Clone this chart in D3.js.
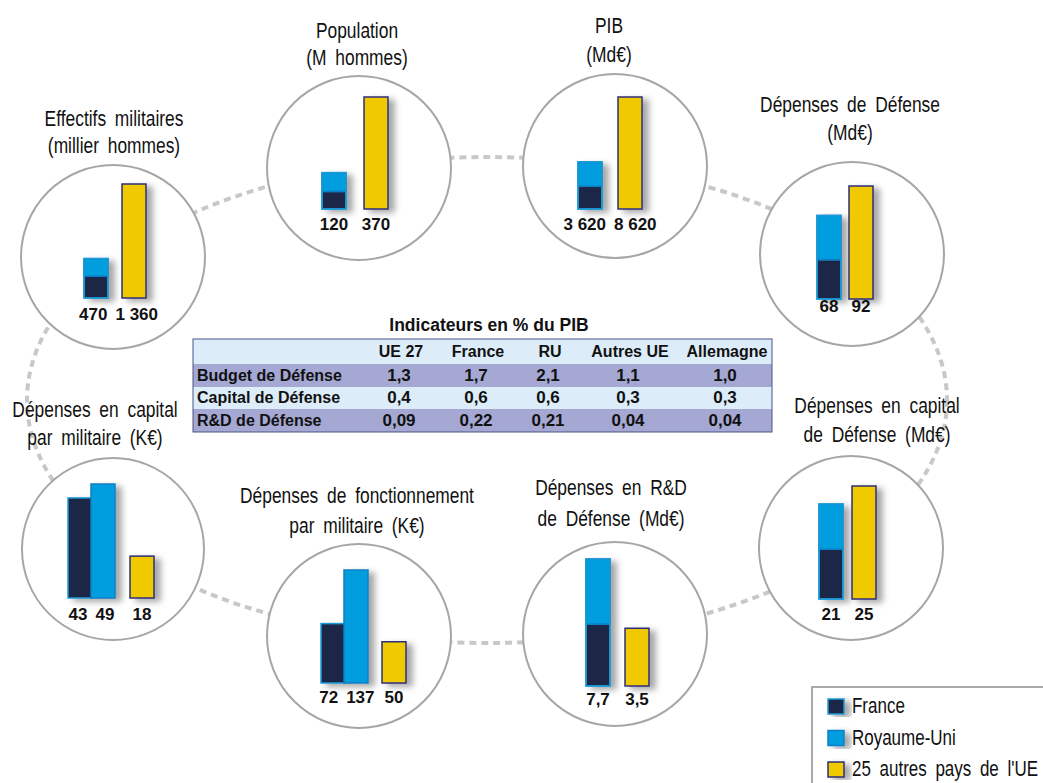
<!DOCTYPE html>
<html>
<head>
<meta charset="utf-8">
<title>Défense : France, Royaume-Uni et autres pays de l'UE</title>
<style>
  body{margin:0;background:#fff;}
  .title{font-family:"Liberation Sans",Arial,sans-serif;font-size:22px;word-spacing:5px;fill:#111;}
  .val{font-family:"Liberation Sans",Arial,sans-serif;font-weight:700;font-size:17px;fill:#111;}
  .tab{font-family:"Liberation Sans",Arial,sans-serif;font-weight:700;font-size:16px;fill:#111;}
  .leg{font-family:"Liberation Sans",Arial,sans-serif;font-size:21.5px;word-spacing:5px;fill:#111;}
</style>
</head>
<body>
<div id="container"></div>
<script src="https://cdn.jsdelivr.net/npm/d3@7"></script>
<script>
  // ---- data
  var panelTitles = [
    ["Effectifs militaires", "(millier hommes)"],
    ["Population", "(M hommes)"],
    ["PIB", "(Md€)"],
    ["Dépenses de Défense", "(Md€)"],
    ["Dépenses en capital", "de Défense (Md€)"],
    ["Dépenses en R&D", "de Défense (Md€)"],
    ["Dépenses de fonctionnement", "par militaire (K€)"],
    ["Dépenses en capital", "par militaire (K€)"]
  ];
  var franceValues  = [262, 58, 1750, 32, 11, 3.75, 72, 43];
  var ukValues      = [208, 62, 1870, 36, 10, 3.95, 137, 49];
  var otherEuValues = [1360, 370, 8620, 92, 25, 3.5, 50, 18];
  var stacked       = [true, true, true, true, true, true, false, false];
  var valueFormats  = [",d", ",d", ",d", ",d", ",d", ".1f", ",d", ",d"];

  var tableTitle = "Indicateurs en % du PIB";
  var tableColumns = ["UE 27", "France", "RU", "Autres UE", "Allemagne"];
  var tableRows = ["Budget de Défense", "Capital de Défense", "R&D de Défense"];
  var tableValues = [
    [1.3, 1.7, 2.1, 1.1, 1.0],
    [0.4, 0.6, 0.6, 0.3, 0.3],
    [0.09, 0.22, 0.21, 0.04, 0.04]
  ];
  var tableFormats = [".1f", ".1f", ".2f"];

  var seriesNames = ["France", "Royaume-Uni", "25 autres pays de l'UE"];

  // ---- styles / layout
  var seriesFill   = ["#1c2846", "#009ddf", "#f0c900"];
  var seriesStroke = ["#1a9ad8", "#0b7fc2", "#2d2f7a"];
  var narrow = 0.79;   // no condensed font installed, squeeze horizontally

  var layout = [
    {cx:113, cy:257, r:92, x:[84,122],      base:298, hmax:114, tx:114, ty:[126,153], ly:320},
    {cx:359, cy:168, r:92, x:[322,364],     base:209, hmax:112, tx:357, ty:[38,65],   ly:230},
    {cx:615, cy:166, r:92, x:[578,618],     base:209, hmax:112, tx:609, ty:[33,62],   ly:230},
    {cx:852, cy:254, r:92, x:[817,849],     base:299, hmax:113, tx:850, ty:[112,140], ly:312},
    {cx:851, cy:548, r:92, x:[819,852],     base:599, hmax:113, tx:877, ty:[413,442], ly:620},
    {cx:615, cy:634, r:92, x:[586,625],     base:686, hmax:127, tx:611, ty:[495,526], ly:705},
    {cx:359, cy:636, r:92, x:[321,344,382], base:683, hmax:113, tx:357, ty:[503,533], ly:703},
    {cx:113, cy:549, r:91, x:[68,91,130],   base:598, hmax:114, tx:95,  ty:[417,445], ly:620}
  ];
  var barW = 24;

  var fr = d3.formatLocale({decimal: ",", thousands: "\u00a0", grouping: [3], currency: ["", "€"]});

  var svg = d3.select("#container").append("svg")
      .attr("width", 1043)
      .attr("height", 783);

  var defs = svg.append("defs");
  var f = defs.append("filter").attr("id", "shadow")
      .attr("x", "-30%").attr("y", "-20%").attr("width", "180%").attr("height", "140%");
  f.append("feDropShadow")
      .attr("dx", 6).attr("dy", 3).attr("stdDeviation", 3)
      .attr("flood-color", "#000").attr("flood-opacity", 0.35);

  function narrowText(sel, x, y, txt, cls, anchor){
    return sel.append("g")
      .attr("transform", "translate(" + x + "," + y + ") scale(" + narrow + ",1)")
      .append("text")
      .attr("class", cls)
      .attr("text-anchor", anchor || "middle")
      .text(txt);
  }

  // dashed ring behind the circles
  svg.append("ellipse")
      .attr("cx", 487).attr("cy", 400).attr("rx", 460).attr("ry", 243)
      .attr("fill", "none")
      .attr("stroke", "#c8c8c8")
      .attr("stroke-width", 4)
      .attr("stroke-dasharray", "7 5");

  layout.forEach(function(L, i){
    var g = svg.append("g").attr("class", "panel");

    g.append("circle")
      .attr("cx", L.cx).attr("cy", L.cy).attr("r", L.r)
      .attr("fill", "#fff")
      .attr("stroke", "#a6a6a6")
      .attr("stroke-width", 2);

    panelTitles[i].forEach(function(t, k){
      narrowText(g, L.tx, L.ty[k], t, "title");
    });

    var fv = franceValues[i], uv = ukValues[i], ov = otherEuValues[i];
    var maxV = stacked[i] ? Math.max(fv + uv, ov) : Math.max(fv, uv, ov);
    var h = d3.scaleLinear().domain([0, maxV]).range([0, L.hmax]);
    var fmt = fr.format(valueFormats[i]);

    var bars, labels;
    if(stacked[i]){
      bars = [
        {s:0, x:L.x[0], v0:0,  v1:fv},
        {s:1, x:L.x[0], v0:fv, v1:fv + uv},
        {s:2, x:L.x[1], v0:0,  v1:ov}
      ];
      labels = [{x:L.x[0], t:fmt(fv + uv)}, {x:L.x[1], t:fmt(ov)}];
    }else{
      bars = [
        {s:0, x:L.x[0], v0:0, v1:fv},
        {s:1, x:L.x[1], v0:0, v1:uv},
        {s:2, x:L.x[2], v0:0, v1:ov}
      ];
      labels = [{x:L.x[0], t:fmt(fv)}, {x:L.x[1], t:fmt(uv)}, {x:L.x[2], t:fmt(ov)}];
    }

    var bg = g.append("g").attr("filter", "url(#shadow)");
    bg.selectAll("rect").data(bars).enter()
      .append("rect")
      .attr("x", function(d){ return d.x; })
      .attr("y", function(d){ return L.base - h(d.v1); })
      .attr("width", barW)
      .attr("height", function(d){ return h(d.v1) - h(d.v0); })
      .attr("fill", function(d){ return seriesFill[d.s]; })
      .attr("stroke", function(d){ return seriesStroke[d.s]; })
      .attr("stroke-width", 1.5);

    if(stacked[i]){
      // outline around the France + UK stack
      g.append("rect")
        .attr("x", L.x[0]).attr("y", L.base - h(fv + uv))
        .attr("width", barW).attr("height", h(fv + uv))
        .attr("fill", "none")
        .attr("stroke", seriesStroke[0])
        .attr("stroke-width", 1.5);
    }

    var lab = g.selectAll(".val").data(labels).enter()
      .append("text")
      .attr("class", "val")
      .attr("y", L.ly)
      .attr("text-anchor", "middle")
      .text(function(d){ return d.t; });

    // centre under the bars, then push apart labels that would touch
    var pos = labels.map(function(d){ return d.x + barW / 2; });
    var w = lab.nodes().map(function(n){ return n.getComputedTextLength(); });
    for(var k = 0; k < pos.length - 1; k++){
      var over = (pos[k] + w[k] / 2) + 8 - (pos[k + 1] - w[k + 1] / 2);
      if(over > 0){ pos[k] -= over / 2; pos[k + 1] += over / 2; }
    }
    lab.attr("x", function(d, k){ return pos[k]; });
  });

  // ---- table
  var tb = {x0:193, x1:772, rows:[339,364,387,409,432], colX:[401,478,550,630,727], labelX:197};
  var tg = svg.append("g").attr("class", "table");

  tg.append("text")
    .attr("class", "tab")
    .attr("x", 489).attr("y", 331)
    .attr("text-anchor", "middle")
    .style("font-size", "17.5px")
    .text(tableTitle);

  tg.selectAll(".band").data(d3.range(4)).enter()
    .append("rect")
    .attr("x", tb.x0)
    .attr("y", function(d){ return tb.rows[d]; })
    .attr("width", tb.x1 - tb.x0)
    .attr("height", function(d){ return tb.rows[d + 1] - tb.rows[d]; })
    .attr("fill", function(d){ return d % 2 ? "#a4a8d3" : "#dcecf8"; });

  tg.append("rect")
    .attr("x", tb.x0).attr("y", tb.rows[0])
    .attr("width", tb.x1 - tb.x0).attr("height", tb.rows[4] - tb.rows[0])
    .attr("fill", "none")
    .attr("stroke", "#4a5488")
    .attr("stroke-width", 1);

  tg.selectAll(".colh").data(tableColumns).enter()
    .append("text")
    .attr("class", "tab")
    .attr("x", function(d, k){ return tb.colX[k]; })
    .attr("y", tb.rows[1] - 7)
    .attr("text-anchor", "middle")
    .text(function(d){ return d; });

  tableRows.forEach(function(r, j){
    var yb = tb.rows[j + 2] - 6;
    tg.append("text")
      .attr("class", "tab")
      .attr("x", tb.labelX).attr("y", yb)
      .text(r);
    var rf = fr.format(tableFormats[j]);
    tg.selectAll(".r" + j).data(tableValues[j]).enter()
      .append("text")
      .attr("class", "tab r" + j)
      .attr("x", function(d, k){ return tb.colX[k] - 2; })
      .attr("y", yb)
      .attr("text-anchor", "middle")
      .style("font-size", "17px")
      .text(function(d){ return rf(d); });
  });

  // ---- legend
  var lg = svg.append("g").attr("class", "legend");
  lg.append("rect")
    .attr("x", 812).attr("y", 687)
    .attr("width", 260).attr("height", 120)
    .attr("fill", "#fff")
    .attr("stroke", "#aaa")
    .attr("stroke-width", 2);

  var items = lg.selectAll(".item").data(seriesNames).enter()
    .append("g")
    .attr("transform", function(d, k){ return "translate(828," + (699 + k * 31.5) + ")"; });
  items.append("rect")
    .attr("width", 16).attr("height", 15)
    .attr("fill", function(d, k){ return seriesFill[k]; })
    .attr("stroke", function(d, k){ return seriesStroke[k]; })
    .attr("stroke-width", 1.5)
    .attr("filter", "url(#shadow)");
  items.each(function(d){
    narrowText(d3.select(this), 24, 14, d, "leg", "start");
  });
</script>
</body>
</html>
